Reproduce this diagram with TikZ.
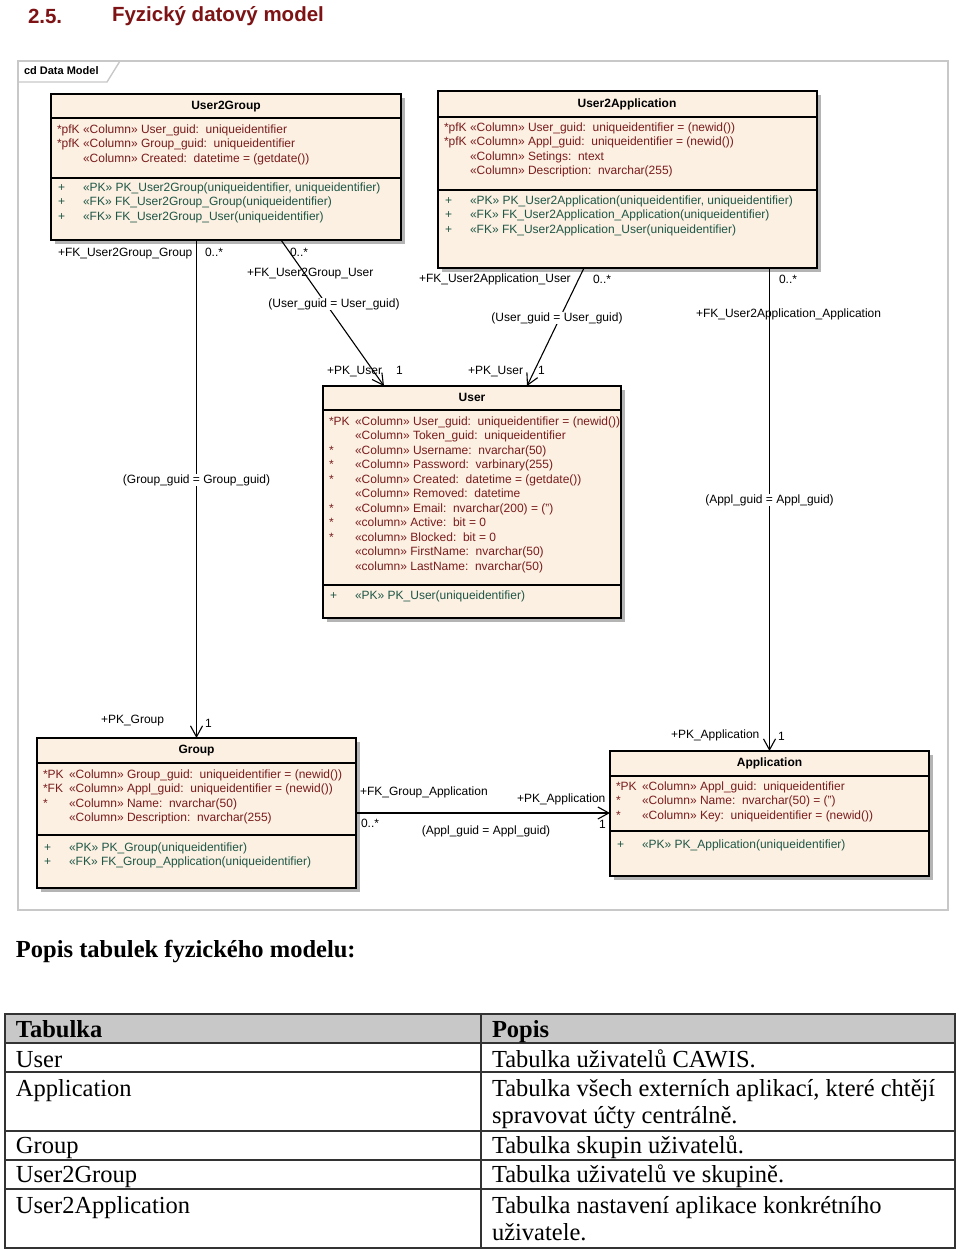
\documentclass[tikz,border=0pt]{standalone}
\usepackage{fontspec}
\setmainfont{Liberation Sans}
\newfontfamily\serf{Liberation Serif}
\usetikzlibrary{arrows.meta}
\definecolor{boxfill}{HTML}{FBF0E2}
\definecolor{attrc}{HTML}{7A1C1C}
\definecolor{methc}{HTML}{1F5646}
\definecolor{titlec}{HTML}{7D1315}
\definecolor{framec}{HTML}{C8C8C8}
\definecolor{shadowc}{HTML}{B4B4B4}
\definecolor{headc}{HTML}{C8C8C8}
\newcommand\colrows[5]{%
  \foreach \p/\t [count=\i from 0] in {#5}{%
    \node[#1] at (#2,#4+\i*14.5) {\p};
    \node[#1] at (#3,#4+\i*14.5) {\t};
  }}
\begin{document}
\begin{tikzpicture}[x=1pt,y=-1pt,
  every node/.style={inner sep=0pt, outer sep=0pt},
  tbl/.style={draw=black, line width=1.4pt, fill=boxfill, anchor=north west},
  sepl/.style={line width=1.2pt},
  hd/.style={font=\fontsize{12}{14}\selectfont\bfseries, text height=9pt, text depth=3pt},
  attrtext/.style={font=\fontsize{12}{14}\selectfont, text=attrc, anchor=west, text height=9pt, text depth=3pt},
  mt/.style={attrtext, text=methc},
  lbl/.style={font=\fontsize{12}{14}\selectfont, anchor=west, text height=9pt, text depth=3pt},
  rel/.style={lbl, anchor=center, fill=white, inner xsep=1pt},
  conn/.style={line width=1.1pt, -{Straight Barb[length=11pt,width=12pt,line width=1.1pt]}},
  tabtext/.style={anchor=west, font=\serf\fontsize{24.5}{28}\selectfont, text height=17pt, text depth=5pt},
  ]
\useasboundingbox (0,0) rectangle (960,1250);
% heading
\node[anchor=west, font=\fontsize{20.5}{24}\selectfont\bfseries, text=titlec] (num) at (28,16) {2.5.};
\node[anchor=west, font=\fontsize{20.5}{24}\selectfont\bfseries, text=titlec] (ttl) at (112,16) {Fyzický datový model};
% frame
\draw[framec, line width=1.4pt] (18,61) rectangle (948,910);
\draw[framec, line width=1.4pt] (18,82) -- (107,82) -- (120,61);
\node[anchor=west, font=\fontsize{11}{13}\selectfont\bfseries] (cd) at (24,71) {cd Data Model};

% User2Group
\fill[shadowc] (55,98) rectangle (405,244);
\node[tbl, minimum width=350pt, minimum height=146pt] (u2g) at (51,94) {};
\draw[sepl] (u2g.west |- 0,118) -- (u2g.east |- 0,118);
\draw[sepl] (u2g.west |- 0,178) -- (u2g.east |- 0,178);
\node[hd] (u2gt) at (226,106) {User2Group};
\colrows{attrtext}{57}{83}{130}{{*pfK}/{«Column» User\_guid:\ \ uniqueidentifier}, {*pfK}/{«Column» Group\_guid:\ \ uniqueidentifier}, {}/{«Column» Created:\ \ datetime = (getdate())}}
\colrows{mt}{58}{83}{188}{{+}/{«PK» PK\_User2Group(uniqueidentifier, uniqueidentifier)}, {+}/{«FK» FK\_User2Group\_Group(uniqueidentifier)}, {+}/{«FK» FK\_User2Group\_User(uniqueidentifier)}}

% User2Application
\fill[shadowc] (442,95) rectangle (821,272);
\node[tbl, minimum width=379pt, minimum height=177pt] (u2a) at (438,91) {};
\draw[sepl] (u2a.west |- 0,117) -- (u2a.east |- 0,117);
\draw[sepl] (u2a.west |- 0,190) -- (u2a.east |- 0,190);
\node[hd] (u2at) at (627,104) {User2Application};
\colrows{attrtext}{444}{470}{128}{{*pfK}/{«Column» User\_guid:\ \ uniqueidentifier = (newid())}, {*pfK}/{«Column» Appl\_guid:\ \ uniqueidentifier = (newid())}, {}/{«Column» Setings:\ \ ntext}, {}/{«Column» Description:\ \ nvarchar(255)}}
\colrows{mt}{445}{470}{201}{{+}/{«PK» PK\_User2Application(uniqueidentifier, uniqueidentifier)}, {+}/{«FK» FK\_User2Application\_Application(uniqueidentifier)}, {+}/{«FK» FK\_User2Application\_User(uniqueidentifier)}}

% User
\fill[shadowc] (327,390) rectangle (625,622);
\node[tbl, minimum width=298pt, minimum height=232pt] (user) at (323,386) {};
\draw[sepl] (user.west |- 0,410) -- (user.east |- 0,410);
\draw[sepl] (user.west |- 0,585) -- (user.east |- 0,585);
\node[hd] (usert) at (472,398) {User};
\colrows{attrtext}{329}{355}{422}{{*PK}/{«Column» User\_guid:\ \ uniqueidentifier = (newid())}, {}/{«Column» Token\_guid:\ \ uniqueidentifier}, {*}/{«Column» Username:\ \ nvarchar(50)}, {*}/{«Column» Password:\ \ varbinary(255)}, {*}/{«Column» Created:\ \ datetime = (getdate())}, {}/{«Column» Removed:\ \ datetime}, {*}/{«Column» Email:\ \ nvarchar(200) = ('')}, {*}/{«column» Active:\ \ bit = 0}, {*}/{«column» Blocked:\ \ bit = 0}, {}/{«column» FirstName:\ \ nvarchar(50)}, {}/{«column» LastName:\ \ nvarchar(50)}}
\colrows{mt}{330}{355}{596}{{+}/{«PK» PK\_User(uniqueidentifier)}}

% Group
\fill[shadowc] (41,742) rectangle (360,892);
\node[tbl, minimum width=319pt, minimum height=150pt] (group) at (37,738) {};
\draw[sepl] (group.west |- 0,763) -- (group.east |- 0,763);
\draw[sepl] (group.west |- 0,835) -- (group.east |- 0,835);
\node[hd] (groupt) at (196.5,750) {Group};
\colrows{attrtext}{43}{69}{775}{{*PK}/{«Column» Group\_guid:\ \ uniqueidentifier = (newid())}, {*FK}/{«Column» Appl\_guid:\ \ uniqueidentifier = (newid())}, {*}/{«Column» Name:\ \ nvarchar(50)}, {}/{«Column» Description:\ \ nvarchar(255)}}
\colrows{mt}{44}{69}{848}{{+}/{«PK» PK\_Group(uniqueidentifier)}, {+}/{«FK» FK\_Group\_Application(uniqueidentifier)}}

% Application
\fill[shadowc] (614,755) rectangle (933,880);
\node[tbl, minimum width=319pt, minimum height=125pt] (app) at (610,751) {};
\draw[sepl] (app.west |- 0,776) -- (app.east |- 0,776);
\draw[sepl] (app.west |- 0,831) -- (app.east |- 0,831);
\node[hd] (appt) at (769.5,763) {Application};
\colrows{attrtext}{616}{642}{787}{{*PK}/{«Column» Appl\_guid:\ \ uniqueidentifier}, {*}/{«Column» Name:\ \ nvarchar(50) = ('')}, {*}/{«Column» Key:\ \ uniqueidentifier = (newid())}}
\colrows{mt}{617}{642}{845}{{+}/{«PK» PK\_Application(uniqueidentifier)}}

% connectors
\draw[conn] (u2g.south -| group.north) -- (group.north);
\draw[conn] (u2g.south -| 281,0) -- (user.north -| 384,0);
\draw[conn] (u2a.south -| 584,0) -- (user.north -| 527,0);
\draw[conn] (u2a.south -| app.north) -- (app.north);
\draw[conn] (group.east |- 0,813) -- (app.west |- 0,813);

% connector labels
\node[lbl] (l1) at (58,253) {+FK\_User2Group\_Group};
\node[lbl] (l2) at (205,253) {0..*};
\node[lbl] (l3) at (290,253) {0..*};
\node[lbl] (l4) at (247,273) {+FK\_User2Group\_User};
\node[rel] (l5) at (334,304) {(User\_guid = User\_guid)};
\node[lbl] (l6) at (327,371) {+PK\_User};
\node[lbl] (l7) at (396,371) {1};
\node[lbl] (l8) at (419,279) {+FK\_User2Application\_User};
\node[lbl] (l9) at (593,280) {0..*};
\node[rel] (l10) at (557,318) {(User\_guid = User\_guid)};
\node[lbl] (l11) at (468,371) {+PK\_User};
\node[lbl] (l12) at (538,371) {1};
\node[lbl] (l13) at (779,280) {0..*};
\node[lbl] (l14) at (696,314) {+FK\_User2Application\_Application};
\node[rel] (l15) at (769.5,500) {(Appl\_guid = Appl\_guid)};
\node[rel] (l16) at (196.5,480) {(Group\_guid = Group\_guid)};
\node[lbl] (l17) at (101,720) {+PK\_Group};
\node[lbl] (l18) at (205,724) {1};
\node[lbl] (l19) at (671,735) {+PK\_Application};
\node[lbl] (l20) at (778,737) {1};
\node[lbl] (l21) at (360,792) {+FK\_Group\_Application};
\node[lbl] (l22) at (517,799) {+PK\_Application};
\node[lbl] (l23) at (361,824) {0..*};
\node[lbl, anchor=center] (l24) at (486,831) {(Appl\_guid = Appl\_guid)};
\node[lbl] (l25) at (599,825) {1};

% table
\node[anchor=west, font=\serf\fontsize{24.5}{28}\selectfont\bfseries] (pt) at (16,952) {Popis tabulek fyzického modelu:};
\fill[headc] (5,1014) rectangle (955,1043);
\draw[line width=1.3pt, black!80] (5,1014) rectangle (955,1248);
\foreach \yy in {1043,1072,1131,1160,1189} \draw[line width=1.3pt, black!80] (5,\yy) -- (955,\yy);
\draw[line width=1.3pt, black!80] (481,1014) -- (481,1248);
\node[tabtext, font=\serf\fontsize{24.5}{28}\selectfont\bfseries] (h1) at (16,1031) {Tabulka};
\node[tabtext, font=\serf\fontsize{24.5}{28}\selectfont\bfseries] (h2) at (492,1031) {Popis};
\node[tabtext] (r1a) at (16,1061) {User};
\node[tabtext] (r1b) at (492,1061) {Tabulka uživatelů CAWIS.};
\node[tabtext] (r2a) at (16,1090) {Application};
\node[tabtext] (r2b) at (492,1090) {Tabulka všech externích aplikací, které chtějí};
\node[tabtext] (r2c) at (492,1117) {spravovat účty centrálně.};
\node[tabtext] (r3a) at (16,1147) {Group};
\node[tabtext] (r3b) at (492,1147) {Tabulka skupin uživatelů.};
\node[tabtext] (r4a) at (16,1176) {User2Group};
\node[tabtext] (r4b) at (492,1176) {Tabulka uživatelů ve skupině.};
\node[tabtext] (r5a) at (16,1207) {User2Application};
\node[tabtext] (r5b) at (492,1207) {Tabulka nastavení aplikace konkrétního};
\node[tabtext] (r5c) at (492,1234) {uživatele.};
\end{tikzpicture}
\end{document}
